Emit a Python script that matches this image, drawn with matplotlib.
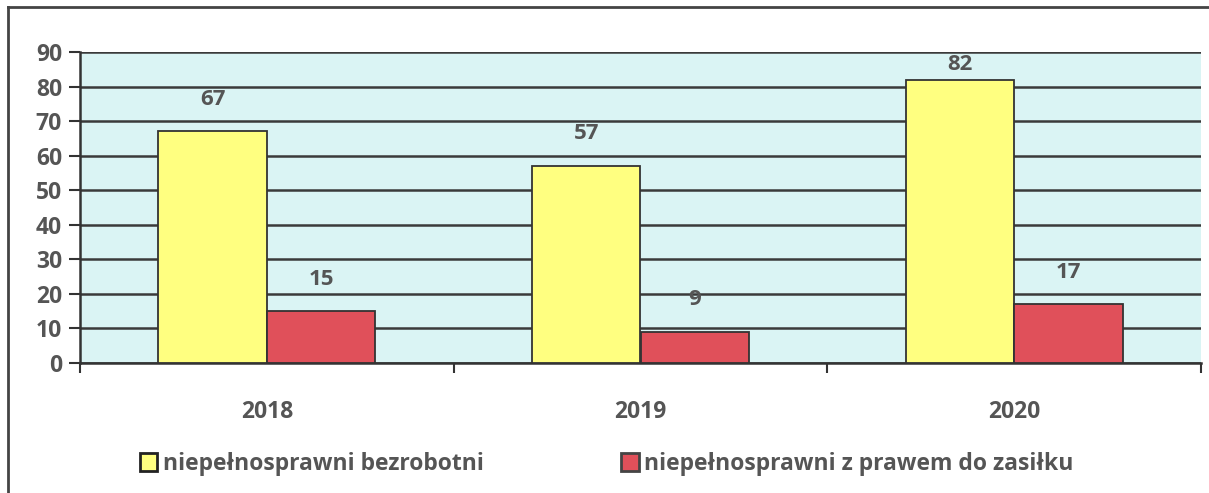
import matplotlib.pyplot as plt
import numpy as np
from matplotlib.lines import Line2D
from matplotlib.patches import Patch

years = ["2018", "2019", "2020"]
unemployed = [67, 57, 82]
with_benefit = [15, 9, 17]
series_names = ["niepełnosprawni bezrobotni", "niepełnosprawni z prawem do zasiłku"]

plt.rcParams["font.family"] = ["Open Sans", "DejaVu Sans"]
plt.rcParams["font.weight"] = "bold"
text_color = "#555555"
fs = 16.5

fig = plt.figure(figsize=(12.09, 4.93), dpi=100)
ax = fig.add_axes([80 / 1209, 1 - 363 / 493, 1121 / 1209, 311 / 493])
ax.set_facecolor("#daf4f4")

x = np.arange(len(years))
width = 0.29
bars1 = ax.bar(x - width / 2, unemployed, width, color="#ffff80",
               edgecolor="#333333", linewidth=1.3, zorder=3)
bars2 = ax.bar(x + width / 2, with_benefit, width, color="#e0505a",
               edgecolor="#333333", linewidth=1.3, zorder=3)

# value labels sit above the bar but are kept inside the plot area
for bars in (bars1, bars2):
    for b in bars:
        h = b.get_height()
        ax.text(b.get_x() + b.get_width() / 2, min(h + 9.3, 86.3), str(int(h)),
                ha="center", va="center", fontsize=fs - 0.5,
                fontweight="bold", color=text_color, zorder=4)

ax.set_xlim(-0.5, 2.5)
ax.set_ylim(0, 90)
ax.set_yticks(range(0, 91, 10))
ax.yaxis.grid(True, color="#3a3a3a", linewidth=1.8, zorder=1)
ax.set_axisbelow(True)

ax.set_xticks(x)
ax.set_xticklabels(years)
ax.set_xticks([-0.5, 0.5, 1.5, 2.5], minor=True)
ax.tick_params(axis="x", which="major", length=0, pad=27,
               labelsize=fs, labelcolor=text_color)
ax.tick_params(axis="x", which="minor", length=7, width=1.5, color="#333333",
               direction="out")
ax.tick_params(axis="y", length=8, width=1.5, color="#333333",
               labelsize=fs, labelcolor=text_color, pad=5)
for lbl in ax.get_xticklabels() + ax.get_yticklabels():
    lbl.set_fontweight("bold")

for side in ("top", "right"):
    ax.spines[side].set_visible(False)
ax.spines["left"].set_color("#333333")
ax.spines["left"].set_linewidth(1.8)
ax.spines["bottom"].set_color("#333333")
ax.spines["bottom"].set_linewidth(1.8)

handles = [Patch(facecolor="#ffff80", edgecolor="#222222", linewidth=2),
           Patch(facecolor="#e0505a", edgecolor="#444444", linewidth=2)]
leg = fig.legend(handles, series_names, loc="center", ncol=2,
                 bbox_to_anchor=(0.502, 1 - 464 / 493), frameon=False,
                 fontsize=fs, handlelength=0.75, handleheight=0.85,
                 handletextpad=0.25, columnspacing=6.0)
for t in leg.get_texts():
    t.set_color(text_color)
    t.set_fontweight("bold")

# outer chart frame
fig.add_artist(Line2D([8 / 1209, 8 / 1209], [0, 1 - 7 / 493],
                      color="#444444", linewidth=2, transform=fig.transFigure))
fig.add_artist(Line2D([8 / 1209, 1], [1 - 7 / 493, 1 - 7 / 493],
                      color="#444444", linewidth=2, transform=fig.transFigure))

fig.savefig("out.png", dpi=100)
